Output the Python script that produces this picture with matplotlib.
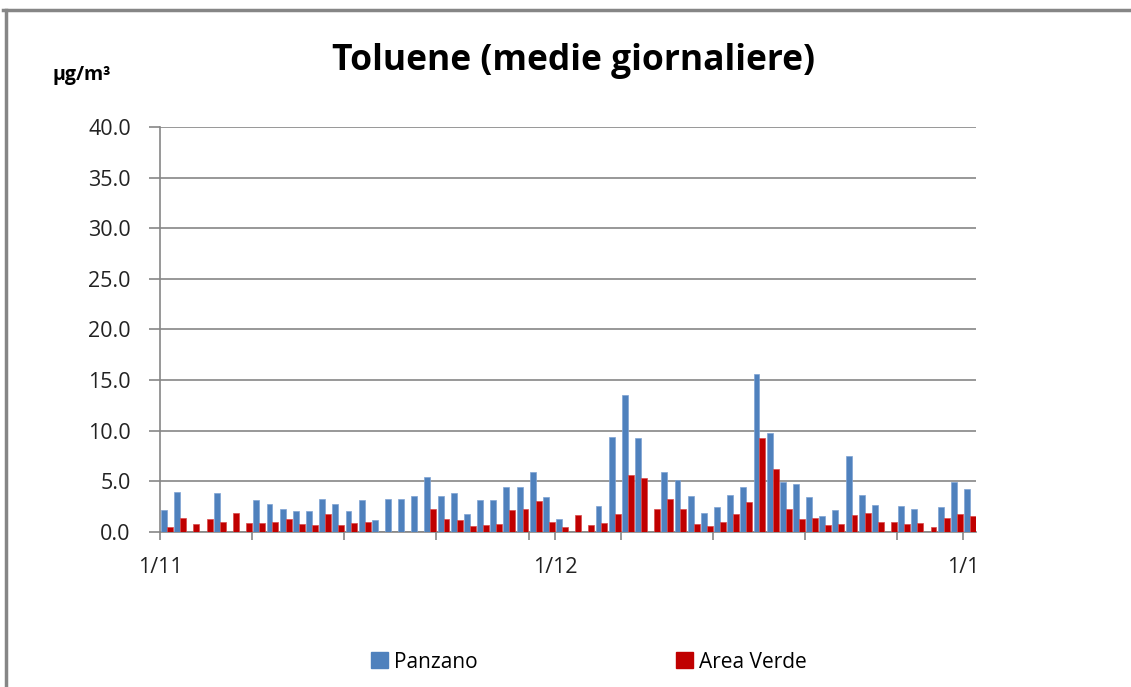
import numpy as np
import matplotlib
matplotlib.use("Agg")
import matplotlib.pyplot as plt
from matplotlib.lines import Line2D
from matplotlib.patches import Patch

nan = np.nan

# medie giornaliere 1/11 -> 1/1 (62 giorni)
panzano = [2.2, 4.0, nan, nan, 3.9, nan, nan, 3.2, 2.8, 2.3,
           2.1, 2.1, 3.3, 2.8, 2.1, 3.2, 1.2, 3.3, 3.3, 3.6,
           5.4, 3.6, 3.9, 1.8, 3.2, 3.2, 4.4, 4.4, 5.9, 3.5,
           1.3, nan, nan, 2.6, 9.4, 13.5, 9.3, nan, 5.9, 5.1,
           3.6, 1.9, 2.5, 3.7, 4.4, 15.6, 9.8, 4.9, 4.7, 3.5,
           1.6, 2.2, 7.5, 3.7, 2.7, nan, 2.6, 2.3, nan, 2.5,
           4.9, 4.2]
area_verde = [0.5, 1.4, 0.8, 1.3, 1.0, 1.9, 0.9, 0.9, 1.0, 1.3,
              0.8, 0.7, 1.8, 0.7, 0.9, 1.0, nan, nan, nan, nan,
              2.3, 1.3, 1.2, 0.6, 0.7, 0.8, 2.2, 2.3, 3.1, 1.0,
              0.5, 1.7, 0.7, 0.9, 1.8, 5.6, 5.3, 2.3, 3.3, 2.3,
              0.8, 0.6, 1.0, 1.8, 3.0, 9.3, 6.2, 2.3, 1.3, 1.4,
              0.7, 0.8, 1.7, 1.9, 1.0, 1.0, 0.8, 0.9, 0.5, 1.4,
              1.8, 1.6]
tick_days = [0, 7, 14, 21, 28, 30, 35, 42, 49, 56, 61]
month_labels = {0: "1/11", 30: "1/12", 61: "1/1"}

blue = "#4F81BD"
red = "#C00000"
grid_col = "#868686"

plt.rcParams['font.family'] = ['Open Sans', 'DejaVu Sans']

fig = plt.figure(figsize=(11.31, 6.87), dpi=100)
ax = fig.add_axes([160 / 1131, 1 - 532 / 687, 816 / 1131, 405 / 687])

days = np.arange(len(panzano))
w = 0.45
ax.bar(days + 0.32, panzano, width=w, color=blue, edgecolor="#7FA3D3", linewidth=0.5, zorder=3)
ax.bar(days + 0.77, area_verde, width=w, color=red, edgecolor="#D84A4A", linewidth=0.5, zorder=3)

ax.set_xlim(0, 62)
ax.set_ylim(0, 40)
ax.set_yticks(np.arange(0, 41, 5))
ax.set_yticklabels([f"{v:.1f}" for v in np.arange(0, 41, 5)], fontsize=15.5, color="#222222")
ax.yaxis.grid(True, color=grid_col, linewidth=1.2, zorder=0)
ax.set_xticks(tick_days)
ax.set_xticklabels([month_labels.get(d, "") for d in tick_days], fontsize=15.5, color="#222222")

for s in ["top", "right"]:
    ax.spines[s].set_visible(False)
for s in ["left", "bottom"]:
    ax.spines[s].set_color(grid_col)
    ax.spines[s].set_linewidth(1.2)
ax.tick_params(axis="y", length=8, color=grid_col, width=1.2, pad=13)
ax.tick_params(axis="x", length=6, color=grid_col, width=1.2, pad=12)

fig.text(573 / 1131, 1 - 61 / 687, "Toluene (medie giornaliere)", ha="center", va="center",
         fontsize=25.5, fontweight="bold")
fig.text(52 / 1131, 1 - 75 / 687, "µg/m³", ha="left", va="center", fontsize=14, fontweight="bold")

handles = [Patch(color=blue), Patch(color=red)]
fig.legend(handles, ["Panzano", "Area Verde"], loc="center", bbox_to_anchor=(589 / 1131, 1 - 662 / 687),
           ncol=2, frameon=False, fontsize=15, handlelength=0.8, handleheight=0.8,
           handletextpad=0.3, columnspacing=9.5)

# bordo grafico
fig.add_artist(Line2D([3 / 1131, 1], [1 - 10 / 687] * 2, color=grid_col, linewidth=2.5))
fig.add_artist(Line2D([6 / 1131] * 2, [0, 1 - 10 / 687], color=grid_col, linewidth=2.5))

fig.savefig("out.png", dpi=100)
